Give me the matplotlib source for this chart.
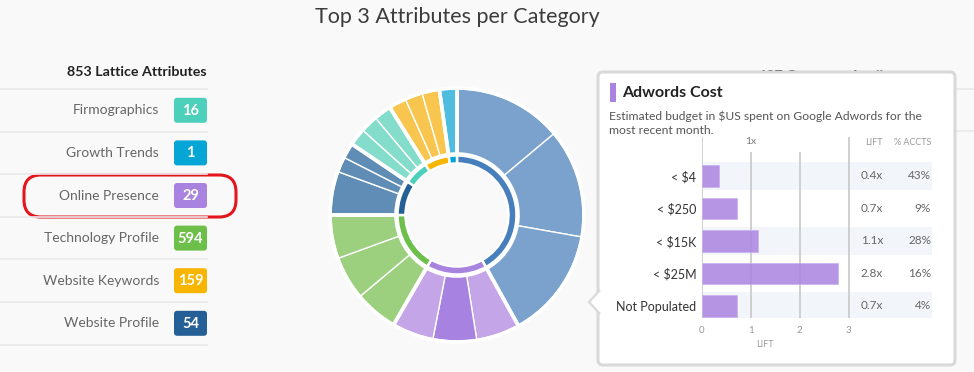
import matplotlib
matplotlib.use('Agg')
import matplotlib.pyplot as plt
from matplotlib.patches import FancyBboxPatch, Rectangle, Polygon, Circle

plt.rcParams['font.family'] = ['Lato', 'DejaVu Sans']

# Left list: categories and attribute counts
categories = ['Firmographics', 'Growth Trends', 'Online Presence',
              'Technology Profile', 'Website Keywords', 'Website Profile']
counts = [16, 1, 29, 594, 159, 54]
badge_colors = ['#4dd0bb', '#05a5d5', '#a983e0', '#6cc04a', '#f7b500', '#245f96']

# Donut: top 3 attributes per category (clockwise from 12 o'clock)
group_colors = ['#467fbb', '#a983e0', '#6cbf4a', '#245f96', '#4dd0bb', '#f8b500', '#06a5d4']
outer_colors = [['#7aa2cc', '#7aa2cc', '#7aa2cc'],
                ['#c3a5e8', '#a882e0', '#c3a5e8'],
                ['#9cd07e', '#9cd07e', '#9cd07e'],
                ['#5f8db5', '#5f8db5', '#5f8db5'],
                ['#84dccb', '#84dccb', '#84dccb'],
                ['#f8c64e', '#f8c64e', '#f8c64e'],
                ['#4fbde0']]
outer_values = [[50, 50, 51],
                [20, 20, 19],
                [20, 20, 20],
                [20, 7, 7],
                [8, 8, 8],
                [8, 8, 8],
                [8]]

# Tooltip bar chart
buckets = ['< $4', '< $250', '< $15K', '< $25M', 'Not Populated']
lift = [0.36, 0.73, 1.14, 2.78, 0.72]
accts = [43, 9, 28, 16, 4]

bg = '#f9f9f9'
fig = plt.figure(figsize=(9.74, 3.72), dpi=100)
fig.patch.set_facecolor(bg)

# overlay axes in pixel units
ax = fig.add_axes([0, 0, 1, 1])
ax.set_xlim(0, 974)
ax.set_ylim(372, 0)
ax.axis('off')

ax.text(457, 17, 'Top 3 Attributes per Category', ha='center', va='center',
        fontsize=15.5, color='#3c3c3c')

# left panel
ax.text(207, 72, '853 Lattice Attributes', ha='right', va='center',
        fontsize=10.3, fontweight='bold', color='#222222')
row_h = 42.6
for k in range(7):
    ax.plot([0, 207], [89 + k * row_h] * 2, color='#e9e9e9', lw=1.2)
for i, (cat, n, col) in enumerate(zip(categories, counts, badge_colors)):
    yc = 110.3 + i * row_h
    ax.text(159, yc, cat, ha='right', va='center', fontsize=10, color='#666666')
    ax.add_patch(FancyBboxPatch((174, yc - 12.5), 33, 25,
                                boxstyle='round,pad=0,rounding_size=3',
                                fc=col, ec='none'))
    ax.text(190.5, yc + 0.5, str(n), ha='center', va='center', fontsize=10.5,
            fontweight='bold', color='white')

# highlight around Online Presence
ax.add_patch(FancyBboxPatch((24, 175), 212, 42,
                            boxstyle='round,pad=0,rounding_size=17',
                            fc='none', ec='#e4161c', lw=2.2))

# right panel (mostly hidden behind tooltip)
ax.text(915, 75.5, '427 Company Attributes', ha='right', va='center',
        fontsize=10.3, fontweight='bold', color='#222222', zorder=2)
for k in range(2):
    ax.plot([600, 974], [88.5 + k * row_h] * 2, color='#e9e9e9', lw=1.2, zorder=2)

# tooltip box
ax.add_patch(FancyBboxPatch((598, 72), 357, 293,
                            boxstyle='round,pad=0,rounding_size=5',
                            fc='white', ec='#d9d9d9', lw=2.2, zorder=5))
ax.add_patch(Polygon([(600, 290), (589, 302), (600, 314)], closed=False,
                     fc='white', ec='#d9d9d9', lw=1.6, zorder=6))
ax.add_patch(Rectangle((610, 83), 6, 19, fc='#a983e0', ec='none', zorder=6))
ax.text(622, 93, 'Adwords Cost', ha='left', va='center', fontsize=11.5,
        fontweight='bold', color='#222222', zorder=6)
ax.text(609, 116, 'Estimated budget in $US spent on Google Adwords for the',
        ha='left', va='center', fontsize=8.75, color='#555555', zorder=6)
ax.text(609, 130, 'most recent month.', ha='left', va='center',
        fontsize=8.75, color='#555555', zorder=6)

# donut
dax = fig.add_axes([327 / 974, (372 - 215 - 130) / 372, 260 / 974, 260 / 372])
dax.set_zorder(1)
flat_vals = [v for g in outer_values for v in g]
flat_cols = [c for g in outer_colors for c in g]
totals = [sum(g) for g in outer_values]
dax.add_patch(Circle((0, 0), 62, fc='white', ec='none', zorder=0))
dax.pie(flat_vals, colors=flat_cols, radius=126, startangle=90, counterclock=False,
        wedgeprops=dict(width=65, edgecolor='white', linewidth=1.0))
dax.pie(totals, colors=['none'] * len(totals), radius=127, startangle=90,
        counterclock=False,
        wedgeprops=dict(width=66, facecolor='none', edgecolor='white', linewidth=2.6))
dax.pie(totals, colors=group_colors, radius=59.5, startangle=90, counterclock=False,
        wedgeprops=dict(width=8, edgecolor='white', linewidth=1.8))
dax.add_patch(Circle((0, 0), 50.5, fc=bg, ec='none', zorder=5))
dax.set_xlim(-130, 130)
dax.set_ylim(-130, 130)
dax.set_aspect('equal')
dax.axis('off')

# tooltip bar chart
x_right = (932 - 701.7) / 49
bax = fig.add_axes([701.7 / 974, (372 - 318) / 372, (932 - 701.7) / 974, (318 - 137) / 372])
bax.set_zorder(2)
bax.set_facecolor('none')
bax.set_xlim(0, x_right)
bax.set_ylim(4.37, -1.2)
for s in bax.spines.values():
    s.set_visible(False)
for i in range(0, len(buckets), 2):
    bax.axhspan(i - 0.435, i + 0.435, color='#f2f5f9', zorder=0, lw=0)
bax.vlines([0, 3], -1.2, 4.37, color='#cccccc', lw=1.3, zorder=1)
bax.vlines([1, 2], -0.74, 4.37, color='#cccccc', lw=1.3, zorder=1)
bax.barh(range(len(buckets)), lift, height=0.65, color='#a983e0', alpha=0.85,
         edgecolor='#c8b0ee', lw=0.6, zorder=2)
bax.set_yticks(range(len(buckets)), buckets)
bax.set_xticks([0, 1, 2, 3], ['0', '1', '2', '3'])
bax.tick_params(axis='y', length=0, pad=4, labelsize=9, labelcolor='#333333')
bax.tick_params(axis='x', length=0, pad=6, labelsize=7, labelcolor='#999999')
bax.text(1, -1.05, '1x', ha='center', va='center', fontsize=7.5, color='#777777')
bax.text(3.70, -1.02, 'LIFT', ha='right', va='center', fontsize=6.5, color='#999999')
bax.text(4.68, -1.02, '% ACCTS', ha='right', va='center', fontsize=6.5,
         color='#999999', clip_on=False)
bax.text(1.28, 5.2, 'LIFT', ha='center', va='center', fontsize=6.5,
         color='#999999', clip_on=False)
for i, (l, a) in enumerate(zip(lift, accts)):
    bax.text(3.70, i, f'{l:.1f}x', ha='right', va='center', fontsize=8.5, color='#666666')
    bax.text(4.68, i, f'{a}%', ha='right', va='center', fontsize=8.5,
             color='#666666', clip_on=False)

fig.savefig('out.png', dpi=100, facecolor=bg)
